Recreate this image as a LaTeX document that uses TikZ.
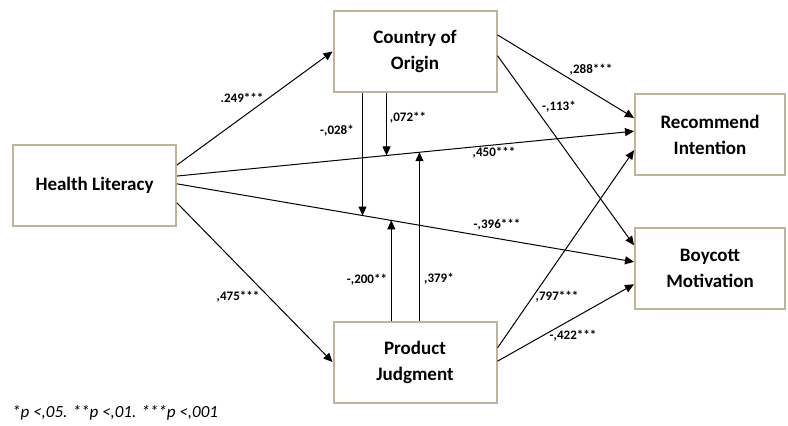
\documentclass[tikz,border=0pt]{standalone}
\usepackage{fontspec}
\setmainfont{Carlito}
\usetikzlibrary{positioning,calc,arrows.meta}

\definecolor{boxline}{RGB}{190,180,150}

\begin{document}
\begin{tikzpicture}[x=1pt, y=-1pt,
    box/.style={draw=boxline, line width=2pt, fill=white, align=center, inner sep=0pt,
        minimum width=163pt, minimum height=81pt,
        font=\bfseries\fontsize{19}{26}\selectfont},
    link/.style={-{Triangle[length=9pt,width=8pt]}, line width=1pt},
    coef/.style={font=\bfseries\fontsize{13}{15}\selectfont, inner sep=0pt}]

    \useasboundingbox (0,0) rectangle (788,426);

    \node[box] (health) at (94.5,185.5) {Health Literacy};
    \node[box] (origin) at (415,51.5) {Country of\\Origin};
    \node[box] (judg) at (415,362) {Product\\Judgment};
    \node[box, minimum width=150pt] (recom) at (710,134.5) {Recommend\\Intention};
    \node[box, minimum width=150pt] (boyc) at (710,268.5) {Boycott\\Motivation};

    % ports on the box sides
    \coordinate (hA) at ($(health.north east)!0.253!(health.south east)$);
    \coordinate (hB) at ($(health.north east)!0.386!(health.south east)$);
    \coordinate (hC) at ($(health.north east)!0.48!(health.south east)$);
    \coordinate (hD) at ($(health.north east)!0.71!(health.south east)$);
    \coordinate (oA) at ($(origin.north east)!0.30!(origin.south east)$);
    \coordinate (oB) at ($(origin.north east)!0.55!(origin.south east)$);
    \coordinate (jA) at ($(judg.north east)!0.33!(judg.south east)$);
    \coordinate (jB) at ($(judg.north east)!0.49!(judg.south east)$);
    \coordinate (rA) at ($(recom.north west)!0.30!(recom.south west)$);
    \coordinate (rB) at ($(recom.north west)!0.46!(recom.south west)$);
    \coordinate (rC) at ($(recom.north west)!0.69!(recom.south west)$);
    \coordinate (bA) at ($(boyc.north west)!0.22!(boyc.south west)$);
    \coordinate (bB) at ($(boyc.north west)!0.42!(boyc.south west)$);
    \coordinate (bC) at ($(boyc.north west)!0.69!(boyc.south west)$);

    % direct paths
    \draw[link] (hA) -- (origin.west);
    \draw[link] (hB) -- (rB) coordinate[pos=0.4585] (m2) coordinate[pos=0.5306] (m4);
    \draw[link] (hC) -- (bB) coordinate[pos=0.406] (m1) coordinate[pos=0.469] (m3);
    \draw[link] (hD) -- (judg.west);
    \draw[link] (oA) -- (rA);
    \draw[link] (oB) -- (bA);
    \draw[link] (jA) -- (rC);
    \draw[link] (jB) -- (bC);

    % moderation
    \draw[link] (origin.south -| m1) -- (m1);
    \draw[link] (origin.south -| m2) -- (m2);
    \draw[link] (judg.north -| m3) -- (m3);
    \draw[link] (judg.north -| m4) -- (m4);

    % coefficients
    \node[coef] (c1) at (242,98) {.249***};
    \node[coef] (c2) at (494,153) {,450***};
    \node[coef] (c3) at (497,225) {-,396***};
    \node[coef] (c4) at (238,297) {,475***};
    \node[coef] (c5) at (591,70) {,288***};
    \node[coef] (c6) at (559,107) {-,113*};
    \node[coef] (c7) at (557,297) {,797***};
    \node[coef] (c8) at (573,336) {-,422***};
    \node[coef] (c9) at (337,131) {-,028*};
    \node[coef] (c10) at (408,118) {,072**};
    \node[coef] (c11) at (367,280) {-,200**};
    \node[coef] (c12) at (439,279) {,379*};

    \node[anchor=west, inner sep=0pt, font=\itshape\fontsize{17}{19}\selectfont] (note) at (12,413) {*p <,05. **p <,01. ***p <,001};

\end{tikzpicture}
\end{document}
